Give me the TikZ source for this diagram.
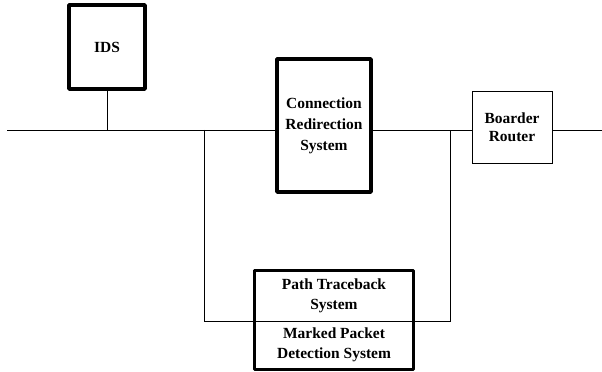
\documentclass[tikz,border=0pt]{standalone}
\usepackage{fontspec}
\setmainfont{Liberation Serif}
\usetikzlibrary{positioning}
\tikzset{
  wire/.style={line width=0.7pt},
  sysbox/.style={draw, line width=2.5pt, line join=round, align=center,
    font=\fontsize{11}{15}\selectfont\bfseries, inner sep=0pt},
  thinbox/.style={draw, line width=0.7pt, align=center,
    font=\fontsize{11}{13}\selectfont\bfseries, inner sep=0pt},
  halfbox/.style={align=center, font=\fontsize{11}{14.5}\selectfont\bfseries,
    inner sep=0pt, minimum width=3.95cm}
}
\begin{document}
\begin{tikzpicture}[x=0.025cm, y=0.025cm]
    \useasboundingbox (0,0) rectangle (602,372);
    % the boxes
    \node[sysbox, minimum width=1.9cm, minimum height=2.1cm] (ids) at (107,325) {IDS};
    \node[sysbox, minimum width=2.35cm, minimum height=3.325cm] (crs) at (324,246.5) {Connection\\Redirection\\System};
    \node[thinbox, minimum width=2cm, minimum height=1.775cm] (br) at (512,244.5) {Boarder\\Router};
    \node[halfbox, minimum height=1.25cm] (ptb) at (334,76) {Path Traceback\\System};
    \node[halfbox, minimum height=1.2cm] (mpd) at (334,27) {Marked Packet\\Detection System};
    \draw[line width=2.5pt, line join=round] (ptb.north west) rectangle (mpd.south east);
    % points on the bus
    \coordinate (busl) at (7,242);
    \coordinate (busr) at (602,242);
    \coordinate (tapl) at (204,242);
    \coordinate (tapr) at (450,242);
    % draw the bus and the links
    \draw[wire] (busl) -- (busl -| crs.west);
    \draw[wire] (busl -| crs.east) -- (busl -| br.west);
    \draw[wire] (busl -| br.east) -- (busr);
    \draw[wire] (ids.south) -- (ids.south |- busl);
    \draw[wire] (tapl) |- (ptb.south) -| (tapr);
\end{tikzpicture}
\end{document}
